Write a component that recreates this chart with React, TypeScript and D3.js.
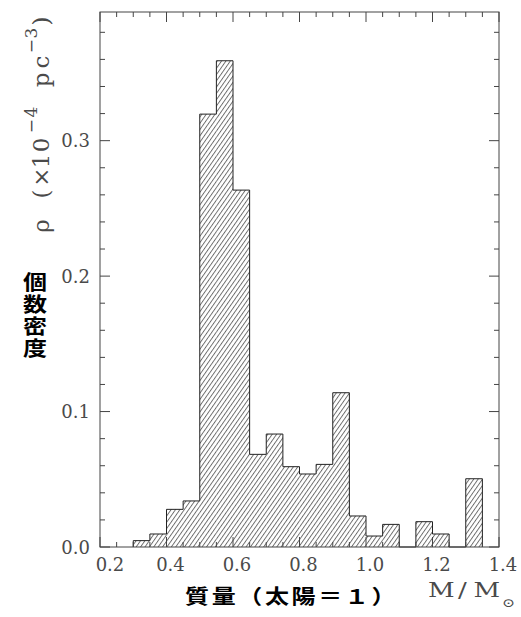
import React from 'react';
import * as d3 from 'd3';

// ---- data ----
const binStarts = [0.30, 0.35, 0.40, 0.45, 0.50, 0.55, 0.60, 0.65, 0.70, 0.75, 0.80, 0.85, 0.90, 0.95, 1.00, 1.05, 1.10, 1.15, 1.20, 1.25, 1.30];
const densities = [0.0047, 0.0096, 0.0278, 0.034, 0.3196, 0.359, 0.2635, 0.0684, 0.0834, 0.0593, 0.0539, 0.061, 0.1139, 0.0229, 0.0081, 0.0167, 0, 0.0187, 0.0096, 0, 0.0504];
const binWidth = 0.05;
const xTicks = [0.2, 0.4, 0.6, 0.8, 1.0, 1.2, 1.4];
const xTickLabels = ['0.2', '0.4', '0.6', '0.8', '1.0', '1.2', '1.4'];
const yTicks = [0.0, 0.1, 0.2, 0.3];
const yTickLabels = ['0.0', '0.1', '0.2', '0.3'];
const xDomain = [0.2, 1.4];
const yDomain = [0, 0.395];
const yAxisLabelJa = '個数密度';
const xAxisLabelJa = '質量（太陽＝１）';

const W = 521;
const H = 617;
const L = 100, R = 499, T = 12, B = 547;

const serif = '"DejaVu Serif", "Liberation Serif", serif';
const cjk = '"Noto Sans CJK JP", "Noto Sans CJK SC", sans-serif';
const textColor = '#4a4a4a';

export default function App() {
  const x = d3.scaleLinear().domain(xDomain).range([L, R]);
  const y = d3.scaleLinear().domain(yDomain).range([B, T]);

  const xMinor = x.ticks(24);
  const yMinor = d3.range(0, 0.3951, 0.02);

  // step outline of histogram
  const pts: [number, number][] = [];
  pts.push([binStarts[0], 0]);
  binStarts.forEach((b, i) => {
    pts.push([b, densities[i]]);
    pts.push([b + binWidth, densities[i]]);
  });
  pts.push([binStarts[binStarts.length - 1] + binWidth, 0]);
  const line = d3.line<[number, number]>().x(d => x(d[0])).y(d => y(d[1]));
  const outline = line(pts) || '';

  const isMajorX = (v: number) => xTicks.some(t => Math.abs(t - v) < 1e-6);
  const isMajorY = (v: number) => yTicks.some(t => Math.abs(t - v) < 1e-6);

  // y label pieces: [text, screen y centre, superscript]
  const yLabelPieces: [string, number, boolean][] = [
    ['ρ', 226, false],
    ['(', 194, false],
    ['×', 177, false],
    ['1', 161, false],
    ['0', 145, false],
    ['−', 126, true],
    ['4', 112, true],
    ['p', 80, false],
    ['c', 62, false],
    ['−', 46, true],
    ['3', 33, true],
    [')', 21, false],
  ];

  return (
    <svg width={W} height={H} style={{ position: 'absolute', left: 0, top: 0, background: '#fff' }}>
      <defs>
        <pattern id="hatch" patternUnits="userSpaceOnUse" width={3.6} height={10} patternTransform="rotate(35)">
          <line x1={0.5} y1={0} x2={0.5} y2={10} stroke="#3a3a3a" strokeWidth={0.75} />
        </pattern>
      </defs>
      <rect x={0} y={0} width={W} height={H} fill="#fff" />

      {/* hatched bars */}
      {binStarts.map((b, i) =>
        densities[i] > 0 ? (
          <rect key={'b' + i} x={x(b)} y={y(densities[i])} width={x(b + binWidth) - x(b)} height={y(0) - y(densities[i])} fill="url(#hatch)" />
        ) : null
      )}
      <path d={outline} fill="none" stroke="#222" strokeWidth={1} />

      {/* frame */}
      <rect x={L} y={T} width={R - L} height={B - T} fill="none" stroke="#444" strokeWidth={1} />

      {/* x ticks top & bottom */}
      {xMinor.map((v, i) => {
        const len = isMajorX(v) ? 10 : 5;
        return (
          <g key={'xt' + i} stroke="#444" strokeWidth={1}>
            <line x1={x(v)} x2={x(v)} y1={T} y2={T + len} />
            <line x1={x(v)} x2={x(v)} y1={B} y2={B - len} />
          </g>
        );
      })}
      {/* y ticks left & right */}
      {yMinor.map((v, i) => {
        const len = isMajorY(v) ? 10 : 5;
        return (
          <g key={'yt' + i} stroke="#444" strokeWidth={1}>
            <line x1={L} x2={L + len} y1={y(v)} y2={y(v)} />
            <line x1={R} x2={R - len} y1={y(v)} y2={y(v)} />
          </g>
        );
      })}

      {/* x tick labels */}
      {xTicks.map((t, i) => (
        <text key={'xl' + i} x={Math.max(x(t) + 4, 110)} y={571} textAnchor="middle" fontFamily={serif} fontSize={18} fill={textColor}>
          {xTickLabels[i]}
        </text>
      ))}
      {/* y tick labels */}
      {yTicks.map((t, i) => (
        <text key={'yl' + i} x={90} y={y(t) + 6.5} textAnchor="end" fontFamily={serif} fontSize={18} fill={textColor}>
          {yTickLabels[i]}
        </text>
      ))}

      {/* y axis label (rotated) */}
      <text transform="translate(49,0) rotate(-90)" fontFamily={serif} fontSize={23} fill={textColor}>
        {yLabelPieces.map(([s, c, sup], i) => (
          <tspan key={'yp' + i} x={-c} y={sup ? -12 : 0} textAnchor="middle" fontSize={sup ? 17 : 23}>
            {s}
          </tspan>
        ))}
      </text>

      {/* vertical Japanese label */}
      <g transform="translate(35,0) scale(1.2,1)">
        <text x={0} y={272} style={{ writingMode: 'vertical-rl' }} fontFamily={cjk} fontWeight="bold" fontSize={20} letterSpacing={2} fill="#000">
          {yAxisLabelJa}
        </text>
      </g>

      {/* x axis label */}
      <text transform="translate(185,604) scale(1.2,1)" fontFamily={cjk} fontWeight="bold" fontSize={20} letterSpacing={2.2} fill="#000">
        {xAxisLabelJa}
      </text>
      <text transform="translate(428,597) scale(1.3,1)" fontFamily={serif} fontSize={20} fill={textColor}>
        <tspan x={0} y={0}>M</tspan>
        <tspan x={23} y={0}>/</tspan>
        <tspan x={35} y={0}>M</tspan>
        <tspan x={57} y={10} fontSize={12}>⊙</tspan>
      </text>
    </svg>
  );
}
